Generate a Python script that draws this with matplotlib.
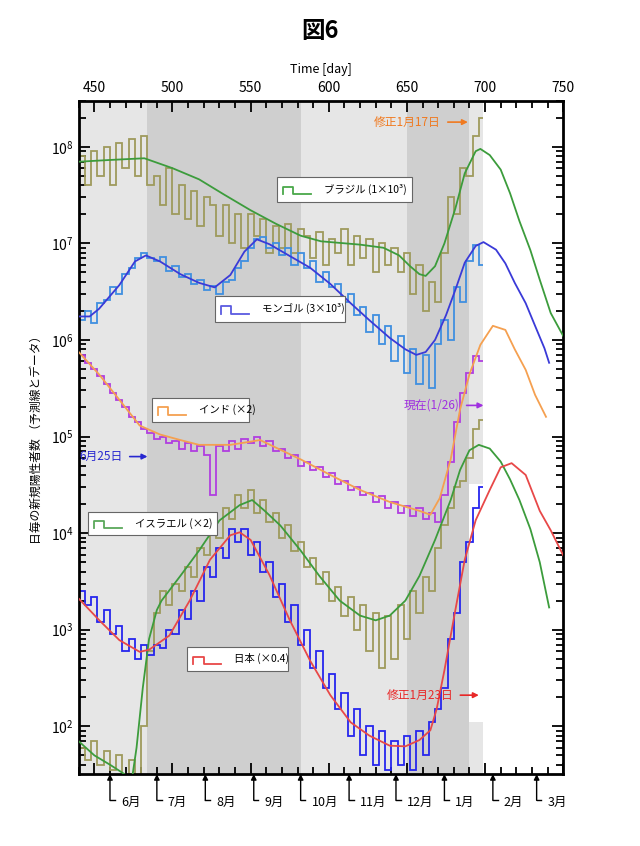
import numpy as np
import matplotlib.pyplot as plt
from matplotlib.patches import Rectangle

plt.rcParams['font.family'] = ['Noto Sans CJK JP', 'DejaVu Sans']

# ---------------- data ----------------
# observed counts, one value every 4 days starting day 440 (drawn as steps)
data_start = 440
data_end = 699

brazil_data = [8e7, 4e7, 9e7, 5e7, 1.0e8, 4e7, 1.1e8, 6e7, 1.2e8, 5e7, 1.3e8, 4e7,
               5e7, 2.5e7, 6e7, 2e7, 4e7, 1.8e7, 3.5e7, 1.5e7, 3e7,
               2.5e7, 1.2e7, 2.5e7, 1e7, 2e7, 9e6, 2e7, 1.2e7, 1.8e7, 8e6, 1.5e7, 9e6, 1.6e7, 8e6, 1.4e7,
               1.2e7, 7e6, 1.3e7, 6e6, 1.1e7, 8e6, 1.4e7, 6e6, 1.2e7, 7e6, 1.1e7, 5e6, 1e7, 6e6, 9e6,
               5e6, 8e6, 3e6, 6e6, 2e6, 4e6, 2.5e6,
               8e6, 3e7, 2e7, 6e7, 5e7, 1.3e8, 2e8]

mongol_data = [1.6e6, 2.0e6, 1.5e6, 2.4e6, 2.6e6, 3.5e6, 3.0e6, 4.8e6, 5.5e6, 7.0e6, 8.0e6, 7.0e6,
               6.5e6, 7.2e6, 5.2e6, 5.8e6, 4.5e6, 4.8e6, 3.8e6, 4.2e6, 3.3e6, 3.6e6, 3.0e6, 4.0e6,
               4.2e6, 5.5e6, 6.5e6, 9.0e6, 1.1e7, 1.15e7, 9.0e6, 1.0e7, 7.5e6, 9.0e6, 6.0e6, 8.0e6,
               5.5e6, 6.5e6, 4.0e6, 5.0e6, 3.5e6, 3.8e6, 2.5e6, 3.0e6, 1.8e6, 2.2e6, 1.2e6, 1.8e6,
               9e5, 1.4e6, 6e5, 1.1e6, 4.5e5, 8e5, 3.5e5, 7e5, 3.2e5, 9e5, 1.6e6, 1.0e6, 3.5e6,
               2.5e6, 6.5e6, 9.5e6, 6.0e6]

india_data = [7e5, 5.8e5, 5.0e5, 4.2e5, 3.5e5, 2.8e5, 2.4e5, 2.0e5, 1.6e5, 1.4e5, 1.2e5, 1.1e5,
              9.5e4, 1.0e5, 8.5e4, 9.0e4, 7.5e4, 8.5e4, 7.0e4, 8.0e4, 6.5e4, 2.5e4, 8.0e4, 7.0e4,
              9.0e4, 7.5e4, 9.5e4, 8.5e4, 1.0e5, 8.0e4, 9.0e4, 7.0e4, 7.5e4, 6.0e4, 6.5e4, 5.0e4,
              5.5e4, 4.5e4, 4.8e4, 3.8e4, 4.2e4, 3.2e4, 3.5e4, 2.8e4, 3.0e4, 2.5e4, 2.6e4, 2.1e4,
              2.4e4, 1.8e4, 2.1e4, 1.6e4, 1.9e4, 1.5e4, 1.8e4, 1.4e4, 1.6e4, 1.3e4, 2.5e4, 5.5e4,
              1.4e5, 2.8e5, 4.5e5, 6.8e5, 6.0e5]

israel_data = [60, 45, 70, 40, 55, 35, 50, 30, 45, 28, 100, 600,
               1.5e3, 2.5e3, 1.8e3, 3.0e3, 2.5e3, 4.5e3, 3.5e3, 7.0e3, 6.0e3, 1.1e4, 9.0e3, 1.8e4,
               1.4e4, 2.5e4, 1.8e4, 2.8e4, 1.6e4, 2.2e4, 1.3e4, 1.6e4, 9.0e3, 1.2e4, 6.5e3, 8.0e3,
               4.5e3, 5.5e3, 3.0e3, 4.0e3, 2.0e3, 2.8e3, 1.4e3, 2.2e3, 1.0e3, 1.8e3, 6.0e2, 1.5e3,
               4.0e2, 1.4e3, 5.0e2, 1.8e3, 8.0e2, 2.5e3, 1.5e3, 3.5e3, 2.5e3, 7.0e3, 1.2e4, 1.8e4,
               3.0e4, 3.5e4, 6.0e4, 1.2e5, 1.5e5]

japan_data = [2.5e3, 1.8e3, 2.2e3, 1.2e3, 1.6e3, 9e2, 1.1e3, 6e2, 8e2, 5e2, 7e2, 5.5e2,
              7e2, 6.5e2, 1.0e3, 9e2, 1.6e3, 1.3e3, 2.5e3, 2.0e3, 4.5e3, 3.5e3, 7e3, 5.5e3,
              1.1e4, 8e3, 1.1e4, 6e3, 8e3, 4e3, 5e3, 2.2e3, 3e3, 1.2e3, 1.8e3, 7e2,
              1e3, 4e2, 6e2, 2.5e2, 3.5e2, 1.5e2, 2.2e2, 80, 1.5e2, 50, 1e2, 40,
              90, 35, 70, 40, 80, 35, 90, 50, 1.1e2, 1.5e2, 2.5e2, 8e2, 1.5e3,
              5e3, 8e3, 1.8e4, 3.0e4]

# model curves (day, value)
brazil_fit_day = [440, 460, 482, 500, 517, 533, 550, 566, 582, 595, 620, 635, 645, 652, 658, 662,
                  668, 674, 681, 687, 694, 697, 703, 710, 716, 722, 729, 735, 742, 750]
brazil_fit = [7.0e7, 7.3e7, 7.6e7, 6.0e7, 4.6e7, 3.2e7, 2.2e7, 1.6e7, 1.2e7, 1.05e7, 9.7e6, 9.0e6,
              7.5e6, 5.8e6, 4.8e6, 4.6e6, 5.8e6, 1.0e7, 2.3e7, 5.3e7, 9.0e7, 9.5e7, 8.2e7, 5.8e7,
              3.3e7, 1.7e7, 8.5e6, 4.2e6, 1.9e6, 1.1e6]

mongol_fit_day = [440, 447, 453, 466, 476, 483, 492, 505, 517, 527, 537, 546, 554, 562, 575, 588,
                  601, 614, 626, 639, 649, 656, 662, 668, 675, 681, 687, 694, 699, 707, 713, 719,
                  726, 732, 738, 741]
mongol_fit = [1.75e6, 1.75e6, 2.1e6, 3.7e6, 6.5e6, 7.5e6, 6.5e6, 4.8e6, 3.9e6, 3.5e6, 4.7e6, 8.2e6,
              1.1e7, 9.8e6, 7.4e6, 5.6e6, 3.8e6, 2.4e6, 1.6e6, 1.05e6, 8e5, 7e5, 7.5e5, 1.0e6,
              1.8e6, 3.3e6, 6.3e6, 9.4e6, 1.03e7, 8.6e6, 6.2e6, 3.9e6, 2.4e6, 1.4e6, 8.2e5, 5.8e5]

india_fit_day = [440, 453, 466, 479, 492, 505, 517, 537, 549, 556, 569, 582, 601, 620, 639, 658,
                 665, 671, 678, 684, 690, 697, 705, 713, 719, 726, 732, 739]
india_fit = [7.5e5, 4.4e5, 2.4e5, 1.3e5, 1.05e5, 9.2e4, 8.2e4, 8.2e4, 8.8e4, 9.2e4, 7.3e4, 5.8e4,
             4.0e4, 2.8e4, 2.1e4, 1.7e4, 1.55e4, 2.3e4, 5.8e4, 1.9e5, 4.4e5, 8.9e5, 1.4e6, 1.27e6,
             8.0e5, 4.9e5, 2.7e5, 1.6e5]

israel_fit_day = [440, 450, 460, 468, 474, 477, 481, 485, 490, 493, 505, 517, 530, 543, 551, 559,
                  569, 582, 594, 607, 620, 630, 639, 649, 658, 668, 678, 684, 690, 696, 703, 710,
                  716, 722, 729, 735, 741]
israel_fit = [70, 50, 40, 33, 28, 60, 250, 800, 1.6e3, 2.0e3, 3.6e3, 6.6e3, 1.35e4, 1.95e4, 2.2e4,
              1.7e4, 1.2e4, 6.6e3, 3.6e3, 2.0e3, 1.4e3, 1.25e3, 1.4e3, 2.0e3, 3.6e3, 8.5e3, 2.2e4,
              4.5e4, 7.2e4, 8.2e4, 7.5e4, 5.5e4, 3.6e4, 2.2e4, 1.1e4, 5e3, 1.7e3]

japan_fit_day = [440, 453, 466, 479, 485, 498, 511, 524, 537, 543, 550, 562, 575, 588, 601, 614,
                 626, 639, 649, 658, 665, 669, 674, 681, 687, 694, 703, 710, 717, 726, 735, 742, 750]
japan_fit = [2.1e3, 1.26e3, 7.8e2, 5.9e2, 6.2e2, 8.7e2, 2.0e3, 5.3e3, 9.5e3, 1.02e4, 8.5e3, 3.7e3,
             1.26e3, 4.8e2, 2.1e2, 1.1e2, 80, 63, 62, 72, 91, 150, 3.8e2, 1.6e3, 5.3e3, 1.36e4,
             2.8e4, 4.8e4, 5.3e4, 4.0e4, 1.7e4, 1.07e4, 5.9e3]

month_labels = ['6月', '7月', '8月', '9月', '10月', '11月', '12月', '1月', '2月', '3月']
month_days = [460, 490, 521, 552, 582, 613, 643, 674, 705, 733]

# shaded periods (start, end, shade)
bands = [(440, 484, '#e6e6e6'), (484, 582, '#cfcfcf'), (582, 650, '#e6e6e6'),
         (650, 689.5, '#cfcfcf'), (689.5, 698.8, '#e6e6e6')]

c_olive = '#9e9a5c'
c_green = '#3c9c3c'
c_lblue = '#3f8fe0'
c_blue = '#3a3ad8'
c_purple = '#b03ee0'
c_orange = '#f5a050'
c_jblue = '#2626ee'
c_red = '#e84848'

fig = plt.figure(figsize=(6.4, 8.46), dpi=100)
ax = fig.add_axes([0.123, 0.085, 0.757, 0.796])

for a, b, c in bands:
    ax.axvspan(a, b, color=c, lw=0, zorder=0)
ax.add_patch(Rectangle((689.5, 110), 9.3, 3.2e4 - 110, color='white', lw=0, zorder=0.5))

edges = np.r_[np.arange(data_start, 697, 4), data_end]
for vals, col in [(brazil_data, c_olive), (mongol_data, c_lblue), (india_data, c_purple),
                  (israel_data, c_olive), (japan_data, c_jblue)]:
    ax.stairs(vals, edges, baseline=None, color=col, lw=1.3, zorder=2)

for d, v, col in [(brazil_fit_day, brazil_fit, c_green), (mongol_fit_day, mongol_fit, c_blue),
                  (india_fit_day, india_fit, c_orange), (israel_fit_day, israel_fit, c_green),
                  (japan_fit_day, japan_fit, c_red)]:
    ax.plot(d, v, color=col, lw=1.3, zorder=3)

ax.set_yscale('log')
ax.set_xlim(440, 750)
ax.set_ylim(32, 3e8)
ax.set_yticks([1e2, 1e3, 1e4, 1e5, 1e6, 1e7, 1e8])

ax.xaxis.tick_top()
ax.xaxis.set_label_position('top')
ax.set_xticks(np.arange(450, 751, 50))
ax.set_xticks(np.arange(440, 751, 10), minor=True)
ax.set_xlabel('Time [day]', fontsize=9, labelpad=6)
ax.tick_params(axis='both', which='both', direction='in', top=True, bottom=True,
               left=True, right=True, width=1.3, labelsize=10)
ax.tick_params(which='major', length=8)
ax.tick_params(which='minor', length=5)
ax.tick_params(axis='x', labelbottom=False, labeltop=True, pad=4)
for s in ax.spines.values():
    s.set_linewidth(2)
ax.set_ylabel('日毎の新規陽性者数 （予測線とデータ）', fontsize=8.5, labelpad=6)

fig.text(0.5, 0.963, '図6', ha='center', va='center', fontsize=17, fontweight='bold')

# legends drawn as boxes
def legend_box(x0, y0, w, h, color, label):
    ax.add_patch(Rectangle((x0, y0), w, h, transform=ax.transAxes, facecolor='white',
                           edgecolor='#666666', lw=0.8, zorder=5))
    ix = x0 + 0.012
    iy = y0 + h * 0.3
    ax.plot([ix, ix, ix + 0.022, ix + 0.022, ix + 0.058], [iy, iy + h * 0.3, iy + h * 0.3, iy, iy],
            transform=ax.transAxes, color=color, lw=1.3, zorder=6)
    ax.text(ix + 0.085, y0 + h / 2, label, transform=ax.transAxes, fontsize=7.5,
            va='center', ha='left', zorder=6)

legend_box(0.409, 0.850, 0.279, 0.037, '#4aa84a', 'ブラジル (1×10³)')
legend_box(0.281, 0.672, 0.269, 0.038, '#5a5ae0', 'モンゴル (3×10³)')
legend_box(0.151, 0.523, 0.200, 0.036, c_orange, 'インド (×2)')
legend_box(0.019, 0.355, 0.267, 0.034, '#5aa85a', 'イスラエル (×2)')
legend_box(0.224, 0.153, 0.209, 0.036, c_red, '日本 (×0.4)')

# annotations
def note(text, x_text, x_tip, y, color):
    ax.annotate(text, xy=(x_tip, y), xytext=(x_text, y), ha='left', va='center',
                fontsize=8.5, color=color, zorder=7,
                arrowprops=dict(arrowstyle='-|>', color=color, lw=1.2,
                                shrinkA=3, shrinkB=0, mutation_scale=8))

note('修正1月17日', 629, 689, 1.8e8, '#f07a20')
note('現在(1/26)', 648, 699, 2.1e5, '#a030e0')
note('6月25日', 440.5, 484, 6.2e4, '#2828d0')
note('修正1月23日', 637, 696, 2.1e2, '#e82828')

# month markers below the axis
trans = ax.get_xaxis_transform()
for d, lab in zip(month_days, month_labels):
    ax.annotate('', xy=(d, 0.0), xytext=(d, -0.039), xycoords=trans, textcoords=trans,
                arrowprops=dict(arrowstyle='-|>', color='k', lw=1.0, shrinkA=0, shrinkB=0,
                                mutation_scale=8), annotation_clip=False)
    ax.plot([d, d + 3], [-0.039, -0.039], transform=trans, color='k', lw=1.0, clip_on=False)
    ax.text(d + 7, -0.042, lab, transform=trans, fontsize=9, ha='left', va='center')

fig.savefig('out.png', dpi=100)
